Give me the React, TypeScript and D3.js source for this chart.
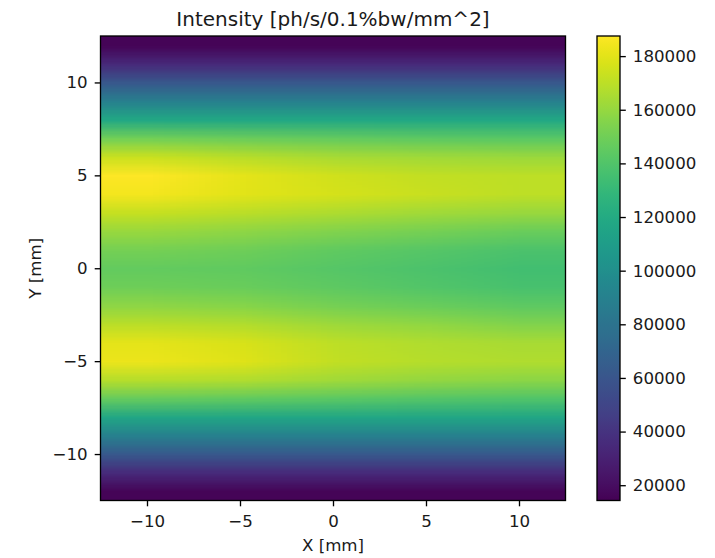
import React, { useEffect, useMemo, useRef } from "react";
import * as d3 from "d3";

// grid sample positions (mm) — cell centres of the intensity map
const xCenters = [-10, -5, 0, 5, 10];
const yCenters = [12, 11, 10, 9, 8, 7, 6, 5, 4, 3, 2, 1, 0, -1, -2, -3, -4, -5, -6, -7, -8, -9, -10, -11, -12];

// intensity [ph/s/0.1%bw/mm^2], one array per x column, top row (y=12) first
const colXm10 = [16000, 35100, 61100, 88800, 118200, 150500, 173600, 187000, 184500, 172000, 160500, 151100, 145900, 149400, 158100, 169500, 180600, 182300, 168400, 146500, 116500, 88800, 61100, 35100, 16000];
const colXm5 = [16000, 35100, 61100, 88800, 118200, 148500, 169000, 180600, 180000, 169500, 158100, 149400, 145500, 147700, 156300, 167500, 177100, 178800, 166700, 145000, 116500, 88800, 61100, 35100, 16000];
const colX0 = [16000, 35100, 61100, 88800, 118200, 146500, 165000, 175000, 176500, 166000, 154600, 145500, 142000, 144200, 151100, 162000, 170200, 171900, 163000, 143000, 116500, 88800, 61100, 35100, 16000];
const colX5 = [16000, 35100, 61100, 88800, 118200, 144800, 163000, 171900, 173000, 162500, 151100, 142000, 138500, 140700, 147700, 158500, 166700, 168400, 159500, 141200, 116500, 88800, 61100, 35100, 16000];
const colX10 = [16000, 35100, 61100, 88800, 118200, 143000, 161500, 170200, 170200, 160500, 147700, 138500, 135000, 137300, 144200, 155000, 165000, 166700, 157500, 139500, 116500, 88800, 61100, 35100, 16000];

const xExtent = [-12.5, 12.5];
const yExtent = [-12.5, 12.5];
const xTicks = [-10, -5, 0, 5, 10];
const yTicks = [-10, -5, 0, 5, 10];
const colorMin = 14300;
const colorMax = 187500;
const colorTicks = [20000, 40000, 60000, 80000, 100000, 120000, 140000, 160000, 180000];

const W = 715, H = 558;
const plot = { left: 100.5, right: 565.5, top: 36, bottom: 500.5 };
const cbar = { left: 597, right: 620 };
const FONT = "DejaVu Sans, sans-serif";

export default function App() {
  const axRef = useRef<SVGGElement>(null);

  const x = d3.scaleLinear().domain(xExtent).range([plot.left, plot.right]);
  const y = d3.scaleLinear().domain(yExtent).range([plot.bottom, plot.top]);
  const cy = d3.scaleLinear().domain([colorMin, colorMax]).range([plot.bottom, plot.top]);
  const color = d3.scaleSequential(d3.interpolateViridis).domain([colorMin, colorMax]);

  const imageUrl = useMemo(() => {
    const cols = [colXm10, colXm5, colX0, colX5, colX10];
    const canvas = document.createElement("canvas");
    canvas.width = xCenters.length;
    canvas.height = yCenters.length;
    const ctx = canvas.getContext("2d")!;
    cols.forEach((col, i) => {
      col.forEach((v, j) => {
        ctx.fillStyle = color(v);
        ctx.fillRect(i, j, 1, 1);
      });
    });
    return canvas.toDataURL();
  }, []);

  useEffect(() => {
    const g = d3.select(axRef.current);
    g.selectAll("*").remove();

    const style = (sel: any) => {
      sel.select(".domain").remove();
      sel.selectAll("line").attr("stroke", "#000").attr("stroke-width", 1.33);
      sel.selectAll("text").attr("font-size", 16.67).attr("font-family", FONT).attr("fill", "#1a1a1a");
    };

    g.append("g")
      .attr("transform", `translate(0,${plot.bottom})`)
      .call(d3.axisBottom(x).tickValues(xTicks).tickSize(5.8).tickPadding(9))
      .call(style);

    g.append("g")
      .attr("transform", `translate(${plot.left},0)`)
      .call(d3.axisLeft(y).tickValues(yTicks).tickSize(5.8).tickPadding(7))
      .call(style);

    g.append("g")
      .attr("transform", `translate(${cbar.right},0)`)
      .call(d3.axisRight(cy).tickValues(colorTicks).tickFormat(d3.format("d")).tickSize(5.8).tickPadding(7))
      .call(style);
  }, []);

  const stops = d3.range(0, 1.0001, 0.02);

  return (
    <svg width={W} height={H} style={{ position: "absolute", left: 0, top: 0 }}>
      <defs>
        <linearGradient id="cb" x1="0" y1="1" x2="0" y2="0">
          {stops.map((t) => (
            <stop key={t} offset={t} stopColor={d3.interpolateViridis(t)} />
          ))}
        </linearGradient>
      </defs>
      <rect width={W} height={H} fill="#fff" />
      <image
        href={imageUrl}
        x={x(xExtent[0])}
        y={y(yExtent[1])}
        width={x(xExtent[1]) - x(xExtent[0])}
        height={y(yExtent[0]) - y(yExtent[1])}
        preserveAspectRatio="none"
      />
      <rect
        x={plot.left}
        y={plot.top}
        width={plot.right - plot.left}
        height={plot.bottom - plot.top}
        fill="none"
        stroke="#000"
        strokeWidth={1.33}
      />
      <rect
        x={cbar.left}
        y={plot.top}
        width={cbar.right - cbar.left}
        height={plot.bottom - plot.top}
        fill="url(#cb)"
        stroke="#000"
        strokeWidth={1.33}
      />
      <g ref={axRef} />
      <text x={(plot.left + plot.right) / 2} y={26} textAnchor="middle" fontFamily={FONT} fontSize={20} fill="#1a1a1a">
        Intensity [ph/s/0.1%bw/mm^2]
      </text>
      <text x={(plot.left + plot.right) / 2} y={551} textAnchor="middle" fontFamily={FONT} fontSize={16.67} fill="#1a1a1a">
        X [mm]
      </text>
      <text
        transform={`translate(35,${(plot.top + plot.bottom) / 2}) rotate(-90)`}
        dy="0.35em"
        textAnchor="middle"
        fontFamily={FONT}
        fontSize={16.67}
        fill="#1a1a1a"
      >
        Y [mm]
      </text>
    </svg>
  );
}
